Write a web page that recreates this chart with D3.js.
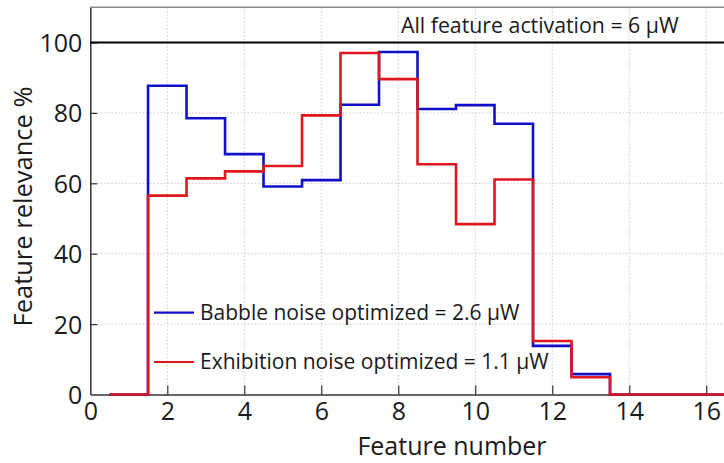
<!DOCTYPE html>
<html>
<head>
  <meta charset="utf-8">
  <title>Feature relevance</title>
  <style>
    body { margin: 0; background: #fff; }
    text { font-family: "Open Sans", sans-serif; fill: #1a1a1a; }
    .grid line { stroke: #c8c8c8; stroke-width: 1; stroke-dasharray: 1.5 2; }
  </style>
</head>
<body>
  <svg id="chart"></svg>

  <script src="https://d3js.org/d3.v7.min.js"></script>
  <script>
    // Data
    const features = d3.range(1, 17);
    const babble = [0, 87.7, 78.5, 68.3, 59.1, 60.9, 82.3, 97.3, 81.1, 82.2, 76.9, 13.8, 5.8, 0, 0, 0];
    const exhibition = [0, 56.5, 61.4, 63.4, 64.9, 79.3, 97.0, 89.6, 65.4, 48.4, 61.1, 15.2, 4.9, 0, 0, 0];
    const xTicks = [0, 2, 4, 6, 8, 10, 12, 14, 16];
    const yTicks = [0, 20, 40, 60, 80, 100];
    const legendLabels = ["Babble noise optimized = 2.6 \u03bcW", "Exhibition noise optimized = 1.1 \u03bcW"];
    const allFeatureLabel = "All feature activation = 6 \u03bcW";

    const width = 724;
    const height = 463;
    const mLeft = 90.3, mTop = 7.3, mRight = 725.5, mBottom = 394.5;

    const svg = d3.select("#chart")
      .attr("width", width)
      .attr("height", height);

    const x = d3.scaleLinear().domain([0, 16.5]).range([mLeft, mRight]);
    const y = d3.scaleLinear().domain([0, 110]).range([mBottom, mTop]);

    // grid
    const grid = svg.append("g").attr("class", "grid");
    grid.selectAll(".gx")
      .data(xTicks.filter(d => d > 0))
      .enter().append("line")
      .attr("x1", d => x(d)).attr("x2", d => x(d))
      .attr("y1", mTop).attr("y2", mBottom);
    grid.selectAll(".gy")
      .data(yTicks.filter(d => d > 0))
      .enter().append("line")
      .attr("x1", mLeft).attr("x2", mRight)
      .attr("y1", d => y(d)).attr("y2", d => y(d));

    // top frame
    svg.append("line")
      .attr("x1", mLeft).attr("x2", mRight)
      .attr("y1", mTop).attr("y2", mTop)
      .attr("stroke", "#8a8a8a").attr("stroke-width", 1.5);

    // axes, ticks pointing inward
    const xAxis = svg.append("g")
      .attr("transform", `translate(0,${mBottom})`)
      .call(d3.axisBottom(x).tickValues(xTicks).tickSizeInner(-9).tickSizeOuter(0).tickPadding(20));
    const yAxis = svg.append("g")
      .attr("transform", `translate(${mLeft},0)`)
      .call(d3.axisLeft(y).tickValues(yTicks).tickSizeInner(-7).tickSizeOuter(0).tickPadding(8));

    [xAxis, yAxis].forEach(a => {
      a.select(".domain").attr("stroke", "#333").attr("stroke-width", 1.5);
      a.selectAll(".tick line").attr("stroke", "#333").attr("stroke-width", 1.2);
      a.selectAll(".tick text")
        .style("font-family", "'Open Sans', sans-serif")
        .style("font-size", "25px")
        .attr("fill", "#111");
    });
    xAxis.selectAll(".tick text").attr("dy", "0.2em");
    yAxis.selectAll(".tick text").attr("dy", "0.36em");
    xAxis.selectAll(".tick").filter(d => d === 0).select("line").remove();
    yAxis.selectAll(".tick").filter(d => d === 0).select("line").remove();

    // 100% line
    svg.append("line")
      .attr("x1", mLeft).attr("x2", mRight)
      .attr("y1", y(100)).attr("y2", y(100))
      .attr("stroke", "#000").attr("stroke-width", 2);

    svg.append("text")
      .attr("x", 401)
      .attr("y", 33)
      .style("font-size", "21.3px")
      .text(allFeatureLabel);

    // stair lines: each feature spans [f-0.5, f+0.5]
    const stairs = vals => {
      const pts = features.map((f, i) => [f - 0.5, vals[i]]);
      pts.push([features[features.length - 1] + 0.5, vals[vals.length - 1]]);
      return pts;
    };
    const line = d3.line()
      .x(d => x(d[0]))
      .y(d => y(d[1]))
      .curve(d3.curveStepAfter);

    const series = [
      { values: babble, color: "#1010c8" },
      { values: exhibition, color: "#e0161e" }
    ];

    svg.selectAll(".series")
      .data(series)
      .enter().append("path")
      .attr("class", "series")
      .attr("fill", "none")
      .attr("stroke", d => d.color)
      .attr("stroke-width", 2.6)
      .attr("d", d => line(stairs(d.values)));

    // legend
    const legend = svg.append("g");
    const items = legend.selectAll(".item")
      .data(series)
      .enter().append("g")
      .attr("transform", (d, i) => `translate(154,${312.7 + i * 49.3})`);
    items.append("line")
      .attr("x1", 0).attr("x2", 40)
      .attr("stroke", d => d.color)
      .attr("stroke-width", 2.2);
    items.append("text")
      .attr("x", 46)
      .attr("dy", "0.33em")
      .style("font-size", "21px")
      .text((d, i) => legendLabels[i]);

    // axis titles
    svg.append("text")
      .attr("x", 452)
      .attr("y", 455)
      .attr("text-anchor", "middle")
      .style("font-size", "25px")
      .attr("fill", "#404040")
      .text("Feature number");

    svg.append("text")
      .attr("transform", "translate(32,206.5) rotate(-90)")
      .attr("text-anchor", "middle")
      .style("font-size", "25.5px")
      .attr("fill", "#404040")
      .text("Feature relevance %");
  </script>
</body>
</html>
